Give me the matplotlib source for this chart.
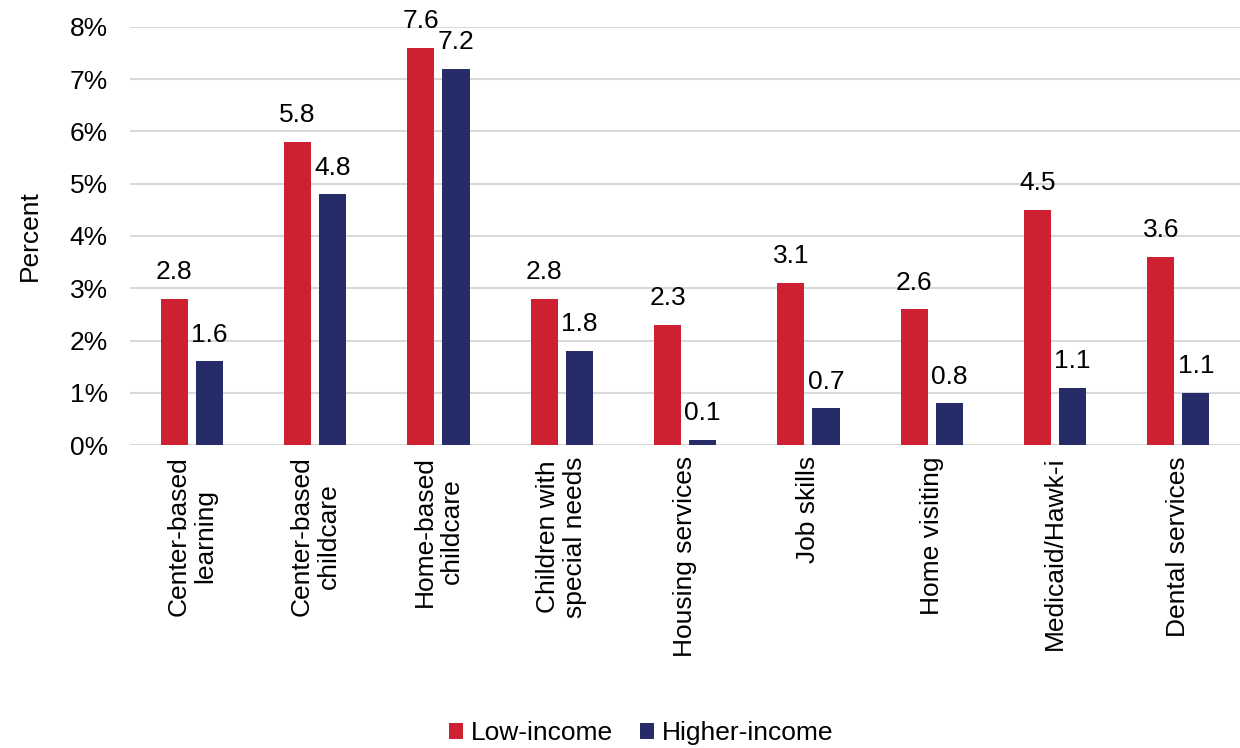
import numpy as np
import matplotlib.pyplot as plt

plt.rcParams['font.family'] = ['Liberation Sans', 'DejaVu Sans']

categories = ["Center-based\nlearning", "Center-based\nchildcare", "Home-based\nchildcare",
              "Children with\nspecial needs", "Housing services", "Job skills",
              "Home visiting", "Medicaid/Hawk-i", "Dental services"]
low_income = [2.8, 5.8, 7.6, 2.8, 2.3, 3.1, 2.6, 4.5, 3.6]
higher_income = [1.6, 4.8, 7.2, 1.8, 0.1, 0.7, 0.8, 1.1, 1.0]
low_labels = ["2.8", "5.8", "7.6", "2.8", "2.3", "3.1", "2.6", "4.5", "3.6"]
high_labels = ["1.6", "4.8", "7.2", "1.8", "0.1", "0.7", "0.8", "1.1", "1.1"]

red = "#CE2030"
navy = "#262C68"
fs = 19

fig = plt.figure(figsize=(12.4, 7.48), dpi=100)
ax = fig.add_axes([0.105, 0.405, 0.895, 0.559])

x = np.arange(len(categories))
w = 0.22
gap = 0.065
b1 = ax.bar(x - (w + gap) / 2, low_income, w, color=red, label="Low-income", zorder=3)
b2 = ax.bar(x + (w + gap) / 2, higher_income, w, color=navy, label="Higher-income", zorder=3)

for bar, lab in zip(b1, low_labels):
    ax.text(bar.get_x() + bar.get_width() / 2, bar.get_height() + 0.28, lab,
            ha="center", va="bottom", fontsize=fs)
for bar, lab in zip(b2, high_labels):
    ax.text(bar.get_x() + bar.get_width() / 2, bar.get_height() + 0.28, lab,
            ha="center", va="bottom", fontsize=fs)

ax.set_xlim(-0.5, len(categories) - 0.5)
ax.set_ylim(0, 8)
ax.set_yticks(range(0, 9))
ax.set_yticklabels([f"{i}%" for i in range(0, 9)], fontsize=fs)
ax.set_xticks(x)
ax.set_xticklabels(categories, rotation=90, fontsize=fs, linespacing=1.15)
ax.tick_params(axis="both", length=0, pad=8)
ax.tick_params(axis="y", pad=16)
ax.yaxis.grid(True, color="#D9D9D9", linewidth=1.5, zorder=0)
for s in ax.spines.values():
    s.set_visible(False)
ax.set_ylabel("Percent", fontsize=fs, labelpad=20)

fig.legend(handles=[b1, b2], loc="lower center", bbox_to_anchor=(0.517, -0.028), ncol=2,
           frameon=False, fontsize=fs, handlelength=0.55, handleheight=0.55,
           handletextpad=0.3, columnspacing=1.0)

fig.savefig("out.png", dpi=100)
